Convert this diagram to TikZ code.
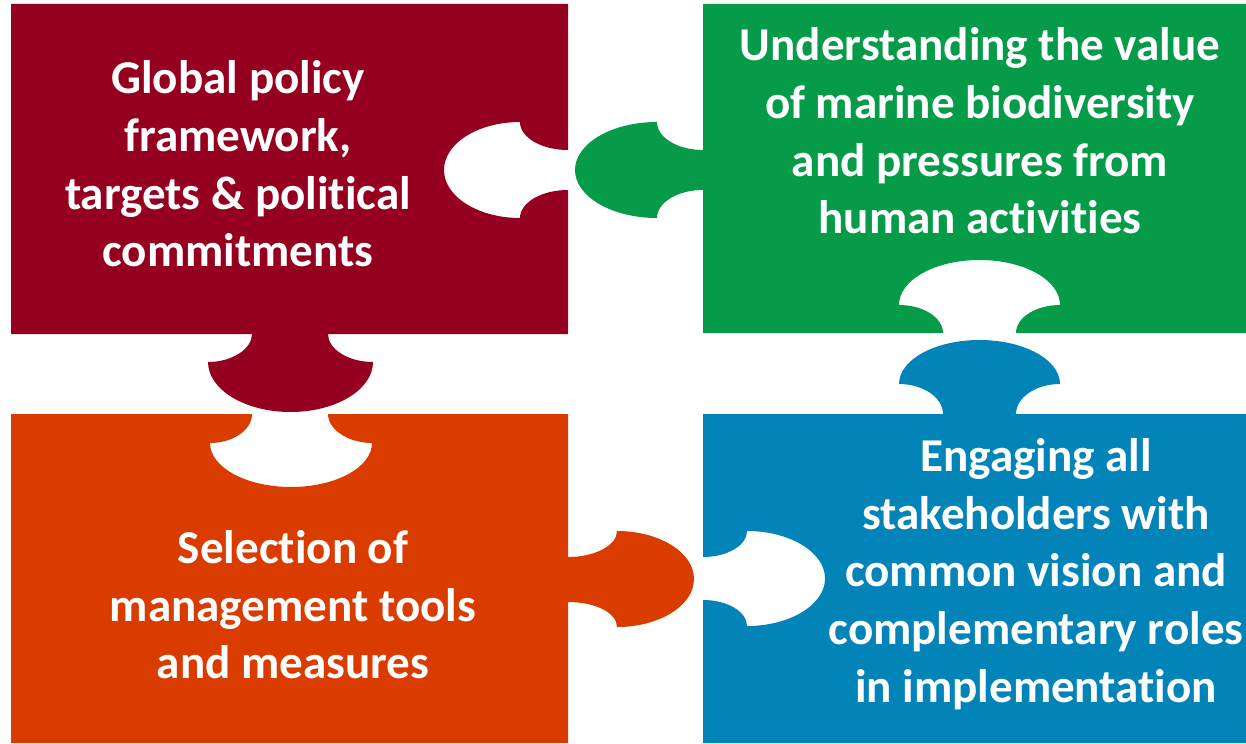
\documentclass[tikz,border=0pt]{standalone}
\usepackage{fontspec}
\setmainfont{Carlito}[Ligatures=NoCommon]
\definecolor{piecered}{RGB}{150,0,32}
\definecolor{piecegreen}{RGB}{5,155,72}
\definecolor{pieceorange}{RGB}{218,60,0}
\definecolor{pieceblue}{RGB}{3,132,185}
\begin{document}
\begin{tikzpicture}[x=0.02cm, y=-0.02cm, label/.style={text=white, align=center, inner sep=0pt, font=\fontsize{26.8}{32.8}\selectfont\bfseries}]
                \useasboundingbox (0,0) rectangle (1246,743);
                % top left piece
                \fill[piecered] (11,4)--(568,4)--(568,150)
                        .. controls (541.5,150) and (520,137.5) .. (520,122)
                        .. controls (478,122) and (444,143.5) .. (444,170)
                        .. controls (444,196.5) and (478,218) .. (520,218)
                        .. controls (520,202.5) and (541.5,190) .. (568,190)
                        --(568,334)--(328,334)
                        .. controls (328,349) and (348,362) .. (373,362)
                        .. controls (373,389.6) and (336,412) .. (290.5,412)
                        .. controls (245,412) and (208,389.6) .. (208,362)
                        .. controls (232,362) and (252,349) .. (252,334)
                        --(11,334)--cycle;
                % top right piece
                \fill[piecegreen] (703,4)--(1246,4)--(1246,333)--(1016,333)
                        .. controls (1016,317.5) and (1036,305) .. (1060,305)
                        .. controls (1060,280) and (1024,260) .. (979.5,260)
                        .. controls (935,260) and (899,280) .. (899,305)
                        .. controls (923,305) and (943,317.5) .. (943,333)
                        --(703,333)--(703,190)
                        .. controls (677.6,190) and (657,202.5) .. (657,218)
                        .. controls (611.7,218) and (575,196.5) .. (575,170)
                        .. controls (575,143.5) and (611.7,122) .. (657,122)
                        .. controls (657,137.5) and (677.6,150) .. (703,150)
                        --cycle;
                % bottom right piece
                \fill[pieceblue] (703,414)--(943,414)
                        .. controls (943,397.4) and (923,384) .. (899,384)
                        .. controls (899,359.7) and (935,340) .. (979.5,340)
                        .. controls (1024,340) and (1060,359.7) .. (1060,384)
                        .. controls (1036,384) and (1016,397.4) .. (1016,414)
                        --(1246,414)--(1246,743)--(703,743)--(703,600)
                        .. controls (727.3,600) and (747,611.6) .. (747,626)
                        .. controls (790,626) and (825,604.7) .. (825,578.5)
                        .. controls (825,552.3) and (790,531) .. (747,531)
                        .. controls (747,545.4) and (727.3,557) .. (703,557)
                        --cycle;
                % bottom left piece
                \fill[pieceorange] (11,414)--(252,414)
                        .. controls (252,430) and (233,443) .. (210,443)
                        .. controls (210,467.3) and (246.3,487) .. (291,487)
                        .. controls (335.7,487) and (372,467.3) .. (372,443)
                        .. controls (349,443) and (328,430) .. (328,414)
                        --(568,414)--(568,557)
                        .. controls (595,557) and (617,545.4) .. (617,531)
                        .. controls (659.5,531) and (694,552.5) .. (694,579)
                        .. controls (694,605.5) and (659.5,627) .. (617,627)
                        .. controls (617,612.6) and (595,602) .. (568,602)
                        --(568,743)--(11,743)--cycle;
                \node[label] (policy) at (238,164) {Global policy\\framework,\\targets \& political\\commitments};
                \node[label] (value) at (980,131) {Understanding the value\\of marine biodiversity\\and pressures from\\human activities};
                \node[label] (tools) at (293,605) {Selection of\\management tools\\and measures};
                \node[label] (stake) at (1036,574) {Engaging all\\stakeholders with\\common vision and\\complementary roles\\in implementation};
\end{tikzpicture}
\end{document}
